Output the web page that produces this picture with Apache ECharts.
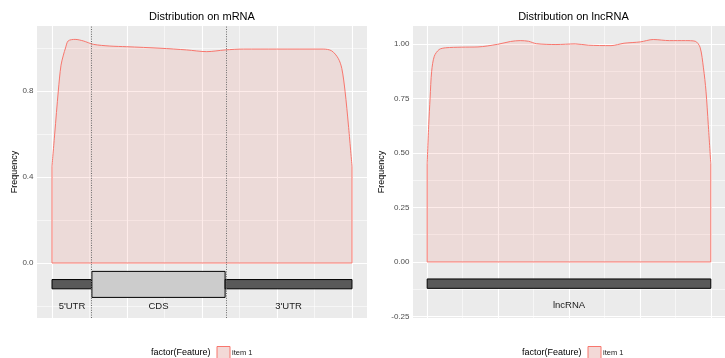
<!DOCTYPE html>
<html>
<head>
<meta charset="utf-8">
<script src="https://cdn.jsdelivr.net/npm/echarts@6/dist/echarts.min.js"></script>
<style>
html,body{margin:0;padding:0;background:#fff;}
#chart{width:725px;height:358px;}
</style>
</head>
<body>
<div id="chart"></div>
<script>
// ---------- data ----------
const mrnaX = [0, 0.009, 0.021, 0.03, 0.038, 0.045, 0.054, 0.077, 0.104, 0.138, 0.193, 0.249, 0.36, 0.449, 0.516, 0.577, 0.638, 0.749, 0.904, 0.932, 0.954, 0.966, 0.977, 0.988, 1];
const mrnaY = [0.45, 0.6, 0.8, 0.92, 0.967, 1.0, 1.033, 1.04, 1.033, 1.017, 1.009, 1.006, 0.999, 0.991, 0.983, 0.991, 0.995, 0.995, 0.995, 0.987, 0.952, 0.905, 0.797, 0.642, 0.45];

const lncX = [0, 0.0055, 0.0103, 0.0158, 0.025, 0.042, 0.065, 0.122, 0.179, 0.248, 0.294, 0.328, 0.357, 0.385, 0.454, 0.522, 0.568, 0.648, 0.694, 0.751, 0.797, 0.854, 0.911, 0.945, 0.962, 0.974, 0.983, 0.991, 1];
const lncY = [0.45, 0.63, 0.752, 0.874, 0.943, 0.974, 0.982, 0.985, 0.986, 0.998, 1.011, 1.015, 1.012, 1.001, 0.997, 1.0, 0.994, 0.992, 1.003, 1.009, 1.02, 1.015, 1.015, 1.012, 0.985, 0.89, 0.783, 0.63, 0.45];

const mrnaFeatures = ["5'UTR", "CDS", "3'UTR"];
const mrnaStart = [0, 0.133, 0.577];
const mrnaEnd = [0.133, 0.577, 1];
const mrnaLow = [-0.12, -0.16, -0.12];
const mrnaHigh = [-0.077, -0.039, -0.077];

const lncFeatures = ["lncRNA"];
const lncStart = [0];
const lncEnd = [1];
const lncLow = [-0.121];
const lncHigh = [-0.078];

const featureLabelY = -0.2;
const mrnaBoundaries = [0.133, 0.577];

const xMajorTicks = [0, 0.25, 0.5, 0.75, 1];
const xMinorTicks = [0.125, 0.375, 0.625, 0.875];
const mrnaYTicks = [0, 0.4, 0.8];
const mrnaYMinor = [-0.2, 0.2, 0.6, 1.0];
const lncYTicks = [-0.25, 0, 0.25, 0.5, 0.75, 1.0];
const lncYMinor = [-0.125, 0.125, 0.375, 0.625, 0.875];

const seriesName = 'item 1';
const legendTitle = 'factor(Feature)';
const titles = ['Distribution on mRNA', 'Distribution on lncRNA'];
const yName = 'Frequency';

// ---------- styles ----------
const FONT = "'Liberation Sans', Arial, Helvetica, sans-serif";
const LINE = '#F8766D';
const FILL = 'rgba(248,118,109,0.2)';
const PANEL = '#EBEBEB';

const zip = (xs, ys) => xs.map((x, i) => [x, ys[i]]);

function xAxisPair(gridIndex) {
  const base = {
    gridIndex, type: 'value', min: -0.05, max: 1.05,
    axisLine: {show: false}, axisLabel: {show: false}
  };
  return [
    Object.assign({}, base, {
      axisTick: {show: false, customValues: xMajorTicks},
      splitLine: {show: true, lineStyle: {color: '#ffffff', width: 1.1}}
    }),
    Object.assign({}, base, {
      axisTick: {show: false, customValues: xMinorTicks},
      splitLine: {show: true, lineStyle: {color: '#ffffff', width: 0.55}}
    })
  ];
}

function yAxisPair(gridIndex, min, max, major, minor, decimals) {
  return [
    {
      gridIndex, type: 'value', min, max, position: 'left',
      axisLine: {show: false},
      axisTick: {show: false, customValues: major},
      axisLabel: {
        show: true, customValues: major, margin: 3.5,
        fontSize: 8, color: '#4D4D4D', fontFamily: FONT,
        formatter: v => Number(v).toFixed(decimals)
      },
      splitLine: {show: true, lineStyle: {color: '#ffffff', width: 1.1}}
    },
    {
      gridIndex, type: 'value', min, max, position: 'left',
      axisLine: {show: false}, axisLabel: {show: false},
      axisTick: {show: false, customValues: minor},
      splitLine: {show: true, lineStyle: {color: '#ffffff', width: 0.55}}
    }
  ];
}

function geneSeries(xAxisIndex, yAxisIndex, names, starts, ends, lows, highs, fills) {
  const data = names.map((n, i) => [starts[i], ends[i], lows[i], highs[i], i]);
  return {
    type: 'custom', xAxisIndex, yAxisIndex, silent: true, z: 3,
    encode: {x: [0, 1], y: [2, 3]},
    data,
    renderItem: (params, api) => {
      const i = api.value(4);
      const p0 = api.coord([api.value(0), api.value(3)]);
      const p1 = api.coord([api.value(1), api.value(2)]);
      const ly = api.coord([0, featureLabelY])[1];
      return {
        type: 'group',
        children: [
          {type: 'rect', shape: {x: p0[0], y: p0[1], width: p1[0] - p0[0], height: p1[1] - p0[1]},
           style: {fill: fills[i], stroke: '#000000', lineWidth: 1}},
          {type: 'text', x: (p0[0] + p1[0]) / 2, y: ly,
           style: {text: names[i], fill: '#1A1A1A', font: '9.5px ' + FONT, align: 'center', verticalAlign: 'middle'}}
        ]
      };
    }
  };
}

const xs = xAxisPair(0).concat(xAxisPair(1));
const ys = yAxisPair(0, -0.2558, 1.1023, mrnaYTicks, mrnaYMinor, 1)
  .concat(yAxisPair(1, -0.257, 1.082, lncYTicks, lncYMinor, 2));

function legendFor(left) {
  return {
    data: [{name: seriesName, icon: 'rect'}],
    left, top: 346, padding: 0, itemWidth: 13, itemHeight: 13,
    selectedMode: false,
    itemStyle: {color: '#F3D9D7', borderColor: LINE, borderWidth: 1},
    textStyle: {fontSize: 7.5, color: '#1A1A1A', fontFamily: FONT, padding: [0, 0, 0, -3]}
  };
}

const option = {
  animation: false,
  backgroundColor: '#ffffff',
  grid: [
    {left: 37, top: 26, width: 330, height: 292, show: true, backgroundColor: PANEL, borderWidth: 0},
    {left: 413, top: 26, width: 321, height: 292, show: true, backgroundColor: PANEL, borderWidth: 0}
  ],
  xAxis: xs,
  yAxis: ys,
  legend: [legendFor(216.5), legendFor(587.5)],
  graphic: [
    {type: 'text', x: 202, y: 17, silent: true,
     style: {text: titles[0], font: '11px ' + FONT, fill: '#000', align: 'center', verticalAlign: 'middle'}},
    {type: 'text', x: 573.5, y: 17, silent: true,
     style: {text: titles[1], font: '11px ' + FONT, fill: '#000', align: 'center', verticalAlign: 'middle'}},
    {type: 'text', x: 15, y: 172, rotation: Math.PI / 2, silent: true,
     style: {text: yName, font: '9px ' + FONT, fill: '#000', align: 'center', verticalAlign: 'middle'}},
    {type: 'text', x: 382, y: 172, rotation: Math.PI / 2, silent: true,
     style: {text: yName, font: '9px ' + FONT, fill: '#000', align: 'center', verticalAlign: 'middle'}},
    {type: 'text', x: 151, y: 352.7, silent: true,
     style: {text: legendTitle, font: '9px ' + FONT, fill: '#000', align: 'left', verticalAlign: 'middle'}},
    {type: 'text', x: 522, y: 352.7, silent: true,
     style: {text: legendTitle, font: '9px ' + FONT, fill: '#000', align: 'left', verticalAlign: 'middle'}}
  ],
  series: [
    {
      name: seriesName, type: 'line', xAxisIndex: 0, yAxisIndex: 0,
      data: zip(mrnaX, mrnaY), smooth: 0.3, showSymbol: false, symbol: 'none',
      lineStyle: {color: LINE, width: 1}, itemStyle: {color: LINE},
      areaStyle: {color: FILL, origin: 0}, z: 2,
      markLine: {
        silent: true, symbol: ['none', 'none'], label: {show: false},
        lineStyle: {color: '#6A6A6A', width: 1, type: [1, 1.4]},
        data: mrnaBoundaries.map(v => ({xAxis: v}))
      }
    },
    {
      name: 'edge-m', type: 'line', xAxisIndex: 0, yAxisIndex: 0, silent: true,
      data: [[mrnaX[0], mrnaY[0]], [mrnaX[0], 0], [mrnaX[mrnaX.length - 1], 0], [mrnaX[mrnaX.length - 1], mrnaY[mrnaY.length - 1]]],
      showSymbol: false, symbol: 'none', lineStyle: {color: LINE, width: 1}, z: 2
    },
    geneSeries(0, 0, mrnaFeatures, mrnaStart, mrnaEnd, mrnaLow, mrnaHigh, ['#595959', '#CCCCCC', '#595959']),
    {
      name: seriesName, type: 'line', xAxisIndex: 2, yAxisIndex: 2,
      data: zip(lncX, lncY), smooth: 0.3, showSymbol: false, symbol: 'none',
      lineStyle: {color: LINE, width: 1}, itemStyle: {color: LINE},
      areaStyle: {color: FILL, origin: 0}, z: 2
    },
    {
      name: 'edge-l', type: 'line', xAxisIndex: 2, yAxisIndex: 2, silent: true,
      data: [[lncX[0], lncY[0]], [lncX[0], 0], [lncX[lncX.length - 1], 0], [lncX[lncX.length - 1], lncY[lncY.length - 1]]],
      showSymbol: false, symbol: 'none', lineStyle: {color: LINE, width: 1}, z: 2
    },
    geneSeries(2, 2, lncFeatures, lncStart, lncEnd, lncLow, lncHigh, ['#595959'])
  ]
};

const chart = echarts.init(document.getElementById('chart'), null, {renderer: 'canvas'});
chart.setOption(option);
</script>
</body>
</html>
